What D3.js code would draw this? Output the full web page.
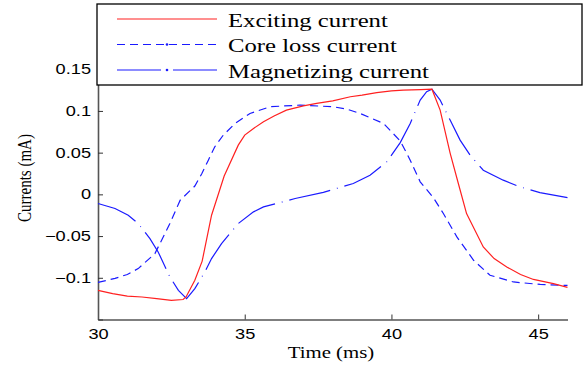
<!DOCTYPE html>
<html>
<head>
  <meta charset="utf-8">
  <script src="https://d3js.org/d3.v7.min.js"></script>
  <style>
    body { margin: 0; background: #fff; }
    .tick text { font-family: "Liberation Sans", Arial, sans-serif; font-size: 14px; fill: #000; }
    .serif { font-family: "Liberation Serif", "Times New Roman", serif; fill: #000; }
  </style>
</head>
<body>
<script>
  "use strict";

  // exciting current (red, solid)
  var excT = [30, 30.5, 31, 31.5, 32, 32.5, 32.9, 33.0, 33.3, 33.55, 33.87, 34.3, 34.78, 35.0, 35.3, 35.64, 36.0, 36.42, 37.0, 37.45, 38.0, 38.6, 39.0, 39.5, 40.0, 40.4, 41.0, 41.38, 41.66, 42.0, 42.28, 42.56, 43.13, 43.5, 43.93, 44.4, 44.84, 45.52, 46.0];
  var excV = [-0.115, -0.119, -0.122, -0.123, -0.125, -0.127, -0.126, -0.123, -0.103, -0.08, -0.025, 0.022, 0.059, 0.071, 0.079, 0.087, 0.094, 0.101, 0.106, 0.109, 0.112, 0.117, 0.119, 0.122, 0.124, 0.125, 0.1255, 0.126, 0.101, 0.0495, 0.013, -0.023, -0.063, -0.077, -0.087, -0.096, -0.102, -0.107, -0.1115];

  // core loss current (blue, dashed)
  var coreT = [30, 30.58, 31.0, 31.37, 31.94, 32.45, 32.8, 33.3, 33.54, 33.76, 33.98, 34.27, 34.67, 35.18, 35.86, 36.89, 38.02, 38.5, 38.93, 39.73, 40.3, 40.64, 40.98, 41.43, 41.77, 42.23, 42.8, 43.36, 44.16, 45.07, 45.86, 46.0];
  var coreV = [-0.1055, -0.1007, -0.096, -0.089, -0.071, -0.035, -0.007, 0.01, 0.025, 0.041, 0.057, 0.071, 0.085, 0.097, 0.105, 0.107, 0.105, 0.102, 0.097, 0.085, 0.064, 0.041, 0.015, -0.004, -0.023, -0.051, -0.079, -0.097, -0.105, -0.108, -0.109, -0.109];

  // magnetizing current (blue, dash-dot)
  var magT = [30, 30.58, 31.03, 31.37, 31.77, 32.05, 32.45, 32.74, 33.02, 33.3, 33.64, 33.87, 34.21, 34.78, 35.3, 35.64, 36.72, 37.68, 38.7, 39.27, 39.84, 40.3, 40.64, 40.98, 41.2, 41.38, 41.66, 42.0, 42.34, 42.68, 43.13, 43.81, 44.38, 45.06, 45.86, 46.0];
  var magV = [-0.011, -0.017, -0.025, -0.035, -0.053, -0.069, -0.099, -0.115, -0.125, -0.113, -0.093, -0.077, -0.059, -0.035, -0.021, -0.015, -0.005, 0.0024, 0.013, 0.023, 0.039, 0.062, 0.085, 0.113, 0.123, 0.126, 0.113, 0.089, 0.065, 0.047, 0.029, 0.017, 0.009, 0.002, -0.003, -0.004];

  var xTicks = [30, 35, 40, 45];
  var yTicks = [-0.15, -0.1, -0.05, 0, 0.05, 0.1, 0.15];
  var seriesNames = ["Exciting current", "Core loss current", "Magnetizing current"];

  var width = 587, height = 366;
  var stretch = 1.3; // the reference is widened horizontally

  var svg = d3.select("body").append("svg")
      .attr("width", width)
      .attr("height", height);

  var x = d3.scaleLinear().domain([30, 46]).range([98, 567.5]);
  var y = d3.scaleLinear().domain([-0.15, 0.2]).range([319.5, 27.5]);

  function widen(sel) {
    sel.each(function() {
      var w = this.getComputedTextLength();
      d3.select(this).attr("textLength", w * stretch).attr("lengthAdjust", "spacingAndGlyphs");
    });
  }

  // axes, ticks pointing inward
  var xAxis = svg.append("g")
      .attr("transform", "translate(0," + y(-0.15) + ")")
      .call(d3.axisBottom(x).tickValues(xTicks).tickSizeInner(-5).tickSizeOuter(0).tickPadding(10).tickFormat(d3.format("d")));
  var yAxis = svg.append("g")
      .attr("transform", "translate(" + x(30) + ",0)")
      .call(d3.axisLeft(y).tickValues(yTicks).tickSizeInner(-5).tickSizeOuter(0).tickPadding(7)
        .tickFormat(function(d) { return d === -0.15 ? "" : d3.format("")(+d.toFixed(2)); }));

  [xAxis, yAxis].forEach(function(a) {
    a.select(".domain").attr("stroke", "#555").attr("stroke-width", 1.6);
    a.selectAll(".tick line").attr("stroke", "#333");
    a.selectAll(".tick text").call(widen);
  });

  var line = d3.line()
      .x(function(d) { return x(d[0]); })
      .y(function(d) { return y(d[1]); });

  function pairs(ts, vs) { return ts.map(function(t, i) { return [t, vs[i]]; }); }

  var styles = [
    { color: "#ff2020", dash: null },
    { color: "#1a1aff", dash: "8,5" },
    { color: "#1a1aff", dash: "42,7,0.8,7" }
  ];
  var data = [pairs(excT, excV), pairs(coreT, coreV), pairs(magT, magV)];

  // draw magnetizing and core first, exciting on top
  [2, 1, 0].forEach(function(i) {
    svg.append("path")
      .datum(data[i])
      .attr("fill", "none")
      .attr("stroke", styles[i].color)
      .attr("stroke-width", 1.2)
      .attr("stroke-dasharray", styles[i].dash)
      .attr("d", line);
  });

  // legend
  var legend = svg.append("g");
  legend.append("rect")
      .attr("x", 97).attr("y", 4)
      .attr("width", 485).attr("height", 81)
      .attr("fill", "#fff").attr("stroke", "#000").attr("stroke-width", 1.3);

  var rows = legend.selectAll("g.row")
      .data(seriesNames)
      .enter().append("g")
        .attr("class", "row")
        .attr("transform", function(d, i) { return "translate(0," + (i * 25.5) + ")"; });

  rows.append("line")
      .attr("x1", 117).attr("x2", 217)
      .attr("y1", 19).attr("y2", 19)
      .attr("stroke", function(d, i) { return styles[i].color; })
      .attr("stroke-width", 1.2)
      .attr("stroke-dasharray", function(d, i) { return i === 1 ? "8,5" : (i === 2 ? "44,12,44" : null); });

  rows.filter(function(d, i) { return i > 0; })
    .append("circle")
      .attr("cx", 167).attr("cy", 19).attr("r", 1.3)
      .attr("fill", "#1a1aff");

  rows.append("text")
      .attr("class", "serif")
      .attr("x", 228).attr("y", 26.5)
      .style("font-size", "19px")
      .text(function(d) { return d; })
      .call(widen);

  // axis titles
  svg.append("text")
      .attr("class", "serif")
      .attr("x", 331).attr("y", 358)
      .attr("text-anchor", "middle")
      .style("font-size", "16px")
      .text("Time (ms)")
      .call(widen);

  svg.append("g")
      .attr("transform", "translate(31,178) scale(1.25,1) rotate(-90)")
    .append("text")
      .attr("class", "serif")
      .attr("text-anchor", "middle")
      .style("font-size", "15px")
      .text("Currents (mA)");
</script>
</body>
</html>
